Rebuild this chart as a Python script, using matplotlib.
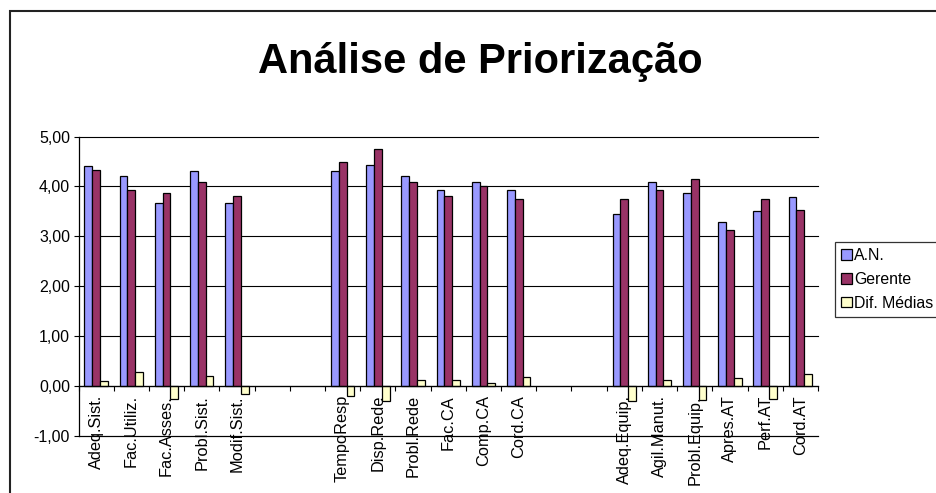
import numpy as np
import matplotlib
matplotlib.use("Agg")
import matplotlib.pyplot as plt
from matplotlib.patches import Rectangle

plt.rcParams['font.family'] = ['Liberation Sans', 'DejaVu Sans']

nan = np.nan
categories = ["Adeq.Sist.", "Fac.Utiliz.", "Fac.Asses.", "Probl.Sist.", "Modif.Sist.", "", "",
              "TempoResp", "Disp.Rede", "Probl.Rede", "Fac.CA", "Comp.CA", "Cord.CA", "", "",
              "Adeq.Equip.", "Agil.Manut.", "Probl.Equip.", "Apres.AT", "Perf.AT", "Cord.AT"]
an = [4.41, 4.20, 3.66, 4.30, 3.66, nan, nan,
      4.30, 4.43, 4.20, 3.93, 4.08, 3.93, nan, nan,
      3.44, 4.08, 3.87, 3.28, 3.50, 3.78]
gerente = [4.32, 3.93, 3.87, 4.08, 3.80, nan, nan,
           4.49, 4.74, 4.08, 3.81, 4.00, 3.75, nan, nan,
           3.75, 3.93, 4.14, 3.13, 3.75, 3.53]
dif = [0.10, 0.29, -0.25, 0.21, -0.15, nan, nan,
       -0.19, -0.30, 0.13, 0.13, 0.07, 0.19, nan, nan,
       -0.30, 0.13, -0.27, 0.16, -0.25, 0.25]
series_names = ["A.N.", "Gerente", "Dif. Médias"]
yticks = [-1, 0, 1, 2, 3, 4, 5]
ytick_labels = ["-1,00", "0,00", "1,00", "2,00", "3,00", "4,00", "5,00"]
title = "Análise de Priorização"

colors = ["#9999FF", "#993366", "#FFFFCC"]

W, H = 937, 493
fig = plt.figure(figsize=(W / 100, H / 100), dpi=100)
fig.patch.set_facecolor("white")

left, right, top, bottom = 78.5, 818, 136.5, 436
ax = fig.add_axes([left / W, 1 - bottom / H, (right - left) / W, (bottom - top) / H])

n = len(categories)
centers = np.arange(n) + 0.5
w = 1 / 4.5
bars = []
for k, (vals, c, name) in enumerate(zip([an, gerente, dif], colors, series_names)):
    b = ax.bar(centers + (k - 1) * w, vals, width=w, color=c, edgecolor="black",
               linewidth=0.9, label=name, zorder=2)
    bars.append(b)

fs = 11.8
ax.set_xlim(0, n)
ax.set_ylim(-1, 5)
ax.set_yticks(yticks)
ax.set_yticklabels(ytick_labels)
ax.set_xticks(np.arange(0, n + 1))
ax.set_xticklabels([])
ax.set_xticks(centers, minor=True)
ax.set_xticklabels(categories, minor=True)
ax.tick_params(axis="x", which="minor", length=0, pad=6.5, labelrotation=90, labelsize=fs)
ax.tick_params(axis="x", which="major", length=3.6, width=0.8, direction="out")
ax.tick_params(axis="y", length=3.6, width=0.8, direction="out", pad=2.5, labelsize=11.5)
for lab in ax.get_xticklabels(minor=True):
    lab.set_va("top")
    lab.set_ha("center")

ax.spines["top"].set_visible(False)
ax.spines["right"].set_visible(False)
ax.spines["bottom"].set_position(("data", 0))
ax.spines["bottom"].set_linewidth(0.9)
ax.spines["left"].set_linewidth(0.9)
ax.spines["bottom"].set_zorder(3)

ax.set_axisbelow(True)
ax.yaxis.grid(True, color="black", linewidth=0.8)
for gl in ax.get_ygridlines():
    gl.set_clip_on(False)
ax.axhline(-1, color="black", linewidth=0.8, clip_on=False, zorder=0.6)
ax.set_facecolor("white")

leg = fig.legend(handles=bars, labels=series_names, loc="upper left",
                 bbox_to_anchor=(835 / W, 1 - 242 / H), borderaxespad=0,
                 fontsize=11.4, frameon=True, fancybox=False, edgecolor="black",
                 handlelength=0.65, handleheight=0.65, handletextpad=0.15,
                 labelspacing=0.55, borderpad=0.4)
leg.get_frame().set_linewidth(0.9)

fig.text(480 / W, 1 - 73 / H, title, fontsize=30, fontweight="bold",
         ha="center", va="baseline")

fig.add_artist(Rectangle((10 / W, -0.2), 2, 1 - 11 / H + 0.2, transform=fig.transFigure,
                         fill=False, edgecolor="#222222", linewidth=1.5))

fig.savefig("out.png", dpi=100)
